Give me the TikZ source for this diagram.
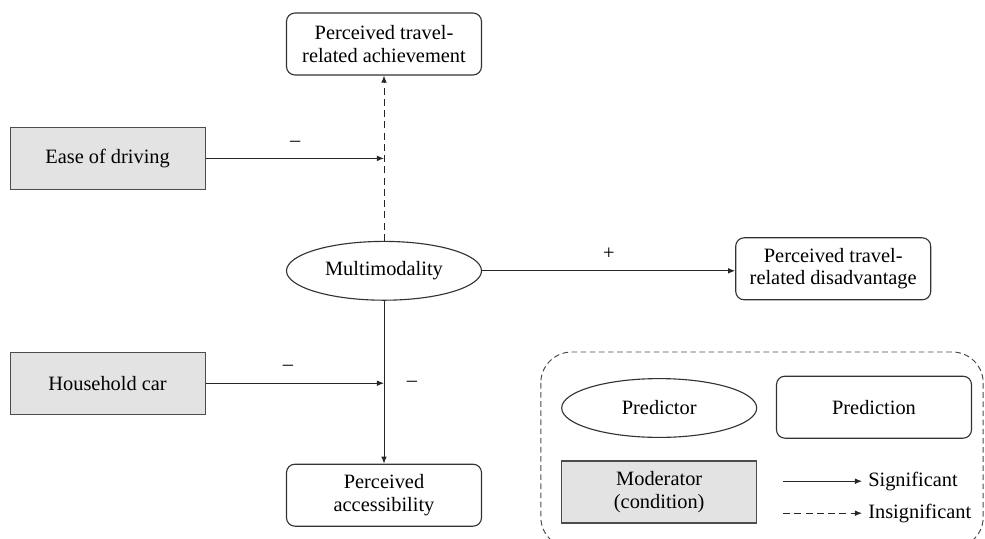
\documentclass[tikz,border=0pt]{standalone}
\usepackage{fontspec}
\setmainfont{LiberationSerif}[Extension=.ttf,UprightFont=*-Regular,BoldFont=*-Bold]
\usetikzlibrary{arrows.meta,positioning,calc,shapes.geometric}

\begin{document}
\begin{tikzpicture}[
    >={Latex[length=5pt,width=4pt]},
    outcome/.style={draw=black!80,fill=white,rounded corners=6pt,line width=.8pt,
        minimum width=4.875cm,minimum height=1.55cm,align=center,
        font=\rmfamily\fontsize{14.5}{16}\selectfont,inner sep=2pt},
    moder/.style={draw=black!70,fill=black!11,line width=.8pt,
        minimum width=4.875cm,minimum height=1.55cm,align=center,
        font=\rmfamily\fontsize{14.5}{16}\selectfont},
    predict/.style={ellipse,draw=black!80,fill=white,line width=.8pt,
        minimum width=4.875cm,minimum height=1.47cm,align=center,
        font=\rmfamily\fontsize{14.5}{16}\selectfont,inner sep=0pt},
    flow/.style={->,line width=.7pt,draw=black!85},
    nsflow/.style={->,line width=.7pt,draw=black!85,dash pattern=on 5pt off 3pt},
    sign/.style={font=\rmfamily\fontsize{14.5}{16}\selectfont,inner sep=1pt},
    keytext/.style={anchor=west,font=\rmfamily\fontsize{14.5}{16}\selectfont,inner sep=0pt}]
\useasboundingbox (0,0) rectangle (24.625,-13.45);
% legend frame
\draw[black!70,line width=.7pt,dash pattern=on 4pt off 2.5pt,rounded corners=22pt]
    (13.52,-8.8) rectangle (24.58,-13.7);
% main model
\node[outcome] (achieve) at (9.6,-1.1) {Perceived travel-\\related achievement};
\node[moder] (ease) at (2.69,-3.96) {Ease of driving};
\node[predict] (multi) at (9.6,-6.77) {Multimodality};
\node[outcome] (disadv) at (20.83,-6.72) {Perceived travel-\\related disadvantage};
\node[moder] (car) at (2.69,-9.58) {Household car};
\node[outcome] (access) at (9.6,-12.38) {Perceived\\accessibility};
\coordinate (easejoin) at (achieve |- ease);
\coordinate (carjoin) at (access |- car);
\draw[nsflow] (multi.north)--(achieve.south);
\draw[flow] (ease.east)--(easejoin);
\draw[flow] (multi.east)--(disadv.west |- multi.east);
\draw[flow] (multi.south)--(access.north);
\draw[flow] (car.east)--(carjoin);
\node[sign] (easesign) at (7.38,-3.6) {\textendash};
\node[sign] (disadvsign) at (15.22,-6.35) {+};
\node[sign] (carsign) at (7.2,-9.2) {\textendash};
\node[sign] (accesssign) at (10.3,-9.6) {\textendash};
% legend
\node[predict] (keypredictor) at (16.48,-10.2) {Predictor};
\node[outcome] (keyprediction) at (21.85,-10.18) {Prediction};
\node[moder] (keymoderator) at (16.48,-12.3) {Moderator\\(condition)};
\coordinate (sigstart) at (19.58,-12.03);
\coordinate (sigend) at (21.55,-12.03);
\coordinate (insigstart) at (19.58,-12.83);
\coordinate (insigend) at (21.55,-12.83);
\draw[flow] (sigstart)--(sigend);
\draw[nsflow] (insigstart)--(insigend);
\node[keytext] (sigtext) at (21.7,-12.03) {Significant};
\node[keytext] (insigtext) at (21.7,-12.83) {Insignificant};
\end{tikzpicture}
\end{document}
